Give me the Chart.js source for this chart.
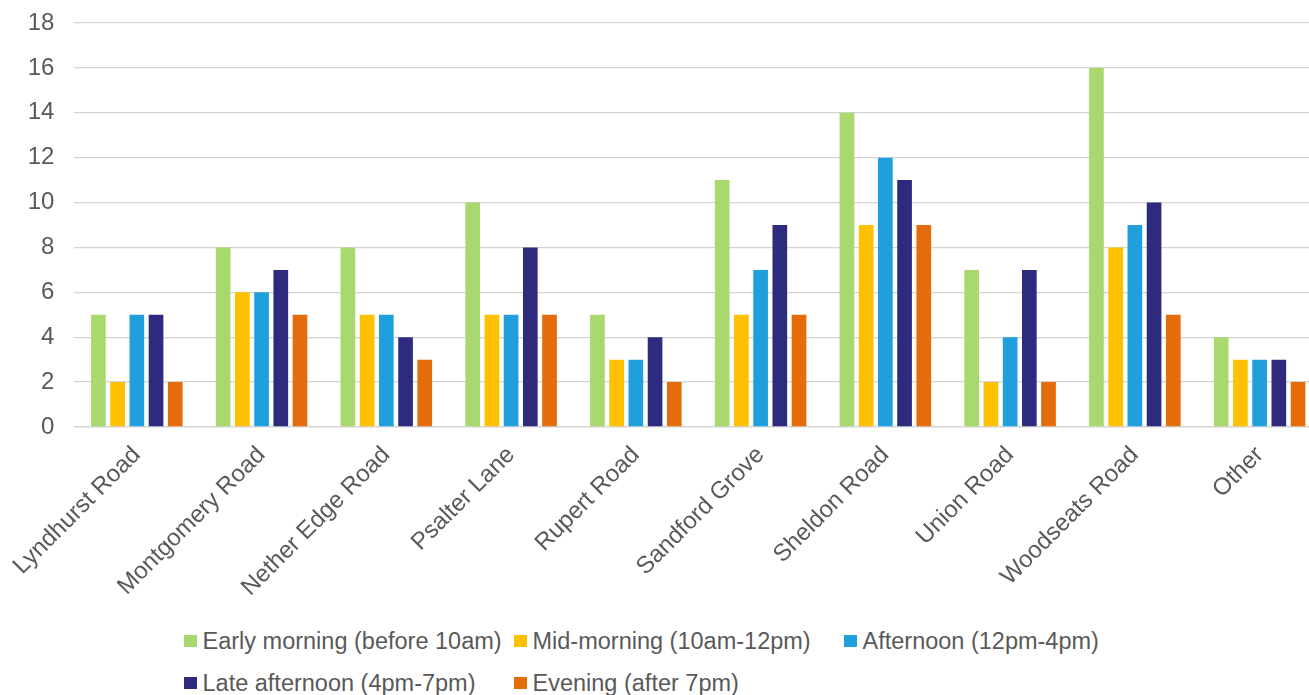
<!DOCTYPE html>
<html>
<head>
<meta charset="utf-8">
<script src="https://cdn.jsdelivr.net/npm/chart.js@4/dist/chart.umd.min.js"></script>
<style>
  html, body { margin: 0; padding: 0; background: #fff; overflow: hidden; width: 1309px; height: 695px; }
  #wrap { position: absolute; left: 0; top: 0; width: 1325px; height: 620px; }
  #legend {
    position: absolute; left: 184px; top: 620px;
    display: grid; grid-template-columns: 330px 330px 330px; grid-auto-rows: 42px;
    font-family: "Liberation Sans", Arial, sans-serif; font-size: 23.5px; color: #595959;
  }
  #legend .item { display: flex; align-items: center; white-space: nowrap; }
  #legend .box { width: 12.5px; height: 12.5px; margin-right: 6px; flex: none; }
</style>
</head>
<body>
<div id="wrap"><canvas id="chart" width="1325" height="620"></canvas></div>
<div id="legend"></div>
<script>
// categories and series
const roads = ["Lyndhurst Road", "Montgomery Road", "Nether Edge Road", "Psalter Lane", "Rupert Road",
               "Sandford Grove", "Sheldon Road", "Union Road", "Woodseats Road", "Other"];
const seriesNames = ["Early morning (before 10am)", "Mid-morning (10am-12pm)", "Afternoon (12pm-4pm)",
                     "Late afternoon (4pm-7pm)", "Evening (after 7pm)"];
const earlyMorning  = [5, 8, 8, 10, 5, 11, 14, 7, 16, 4];
const midMorning    = [2, 6, 5, 5, 3, 5, 9, 2, 8, 3];
const afternoon     = [5, 6, 5, 5, 3, 7, 12, 4, 9, 3];
const lateAfternoon = [5, 7, 4, 8, 4, 9, 11, 7, 10, 3];
const evening       = [2, 5, 3, 5, 2, 5, 9, 2, 5, 2];
const yTicks = [0, 2, 4, 6, 8, 10, 12, 14, 16, 18];

const colours = ["#a9d86e", "#ffc000", "#1f9fdb", "#2e2a7e", "#e46c0a"];
const allSeries = [earlyMorning, midMorning, afternoon, lateAfternoon, evening];

const font = "'Liberation Sans', Arial, sans-serif";
const grey = "#595959";

const ctx = document.getElementById("chart").getContext("2d");
new Chart(ctx, {
    type: "bar",
    data: {
        labels: roads,
        datasets: allSeries.map((vals, i) => ({
            label: seriesNames[i],
            data: vals,
            backgroundColor: colours[i],
            borderWidth: 0,
            categoryPercentage: 0.77,
            barPercentage: 0.764
        }))
    },
    options: {
        responsive: false,
        animation: false,
        layout: { padding: { top: 23, right: 3, left: 0, bottom: 0 } },
        plugins: {
            legend: { display: false },
            tooltip: { enabled: false }
        },
        scales: {
            x: {
                grid: { display: false, drawTicks: false },
                border: { color: "#d4d4d4", width: 1.3 },
                ticks: {
                    color: grey,
                    font: { family: font, size: 24 },
                    minRotation: 45,
                    maxRotation: 45,
                    padding: 14,
                    autoSkip: false
                },
                afterFit: (scale) => { scale.height = 193; }
            },
            y: {
                min: 0,
                max: 18,
                afterBuildTicks: (scale) => { scale.ticks = yTicks.map(v => ({ value: v })); },
                grid: { color: "#d4d4d4", lineWidth: 1.3, drawTicks: false },
                border: { display: false },
                ticks: {
                    color: grey,
                    font: { family: font, size: 24 },
                    padding: 20
                },
                afterFit: (scale) => {
                    scale.width = 73;
                    // tick padding is meant sideways only, don't let it push the plot down
                    scale.paddingTop = 0;
                    scale.paddingBottom = 0;
                }
            }
        }
    }
});

// legend laid out in three columns like the original
const legend = document.getElementById("legend");
seriesNames.forEach((name, i) => {
    const item = document.createElement("div");
    item.className = "item";
    const box = document.createElement("span");
    box.className = "box";
    box.style.background = colours[i];
    const txt = document.createElement("span");
    txt.textContent = name;
    item.appendChild(box);
    item.appendChild(txt);
    legend.appendChild(item);
});
</script>
</body>
</html>
